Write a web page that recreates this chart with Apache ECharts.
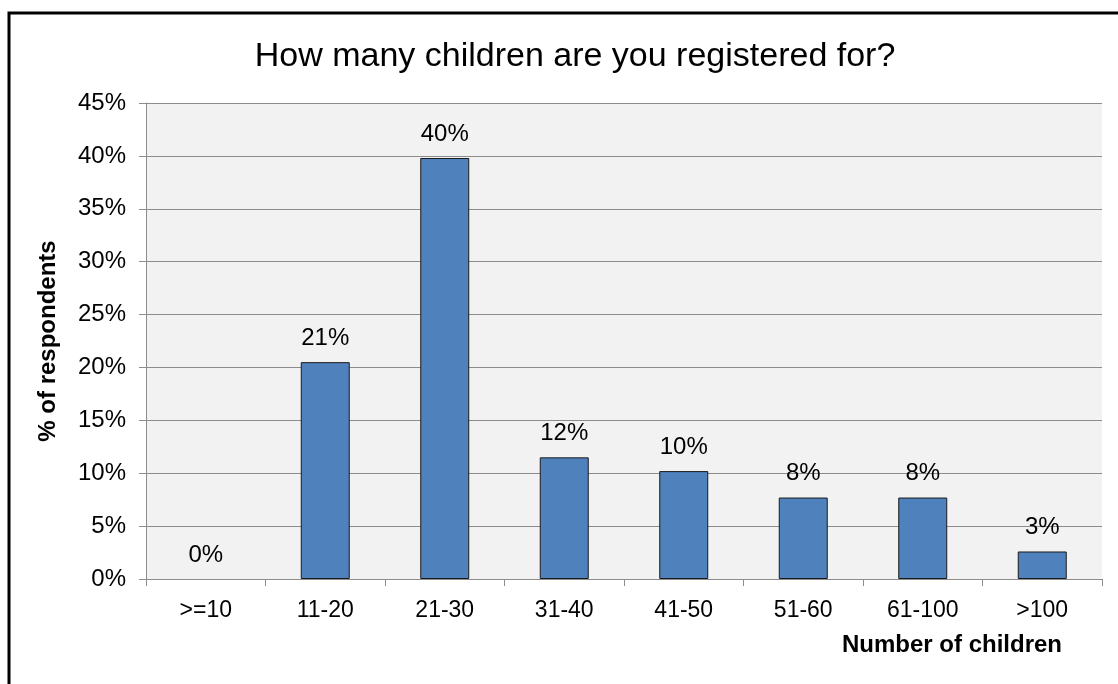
<!DOCTYPE html>
<html>
<head>
<meta charset="utf-8">
<script src="https://cdn.jsdelivr.net/npm/echarts@6/dist/echarts.min.js"></script>
<style>
  html, body { margin: 0; padding: 0; background: #fff; }
  #chart { width: 1118px; height: 684px; }
</style>
</head>
<body>
<div id="chart"></div>
<script>
var categories = ['>=10', '11-20', '21-30', '31-40', '41-50', '51-60', '61-100', '>100'];
var shares = [0, 20.5, 39.8, 11.5, 10.2, 7.7, 7.7, 2.6];
var yTicks = { min: 0, max: 45, interval: 5 };

var myChart = echarts.init(document.getElementById('chart'));

// zero bars get no outline, like the original
var barData = shares.map(function (v) {
    return v === 0 ? { value: v, itemStyle: { borderWidth: 0 } } : v;
});

var option = {
    animation: false,
    backgroundColor: '#fff',
    textStyle: { fontFamily: 'Liberation Sans, Arial, sans-serif' },
    title: {
        text: 'How many children are you registered for?',
        left: 570,
        textAlign: 'center',
        top: 35,
        textStyle: { fontSize: 34, fontWeight: 'normal', color: '#000' }
    },
    // frame around the chart, only top and left edges are in view
    graphic: [{
        type: 'rect',
        shape: { x: 9, y: 13, width: 1300, height: 900 },
        style: { fill: null, stroke: '#000', lineWidth: 3 },
        silent: true
    }],
    grid: {
        left: 146, right: 16, top: 103, bottom: 105,
        show: true, backgroundColor: '#f2f2f2', borderWidth: 0
    },
    xAxis: {
        type: 'category',
        data: categories,
        name: 'Number of children',
        nameLocation: 'end',
        nameGap: -40,
        nameTextStyle: {
            fontSize: 24, fontWeight: 'bold', color: '#000',
            align: 'right', verticalAlign: 'top', padding: [54, 0, 0, 0]
        },
        axisLine: { lineStyle: { color: '#8c8c8c' } },
        axisTick: { show: true, length: 7, inside: false, lineStyle: { color: '#8c8c8c' } },
        axisLabel: { fontSize: 23, color: '#000', margin: 20 }
    },
    yAxis: {
        type: 'value',
        min: yTicks.min, max: yTicks.max, interval: yTicks.interval,
        name: '% of respondents',
        nameLocation: 'middle',
        nameRotate: 90,
        nameGap: 86,
        nameTextStyle: { fontSize: 24, fontWeight: 'bold', color: '#000' },
        axisLine: { show: true, lineStyle: { color: '#8c8c8c' } },
        axisTick: { show: true, length: 7, lineStyle: { color: '#8c8c8c' } },
        axisLabel: { fontSize: 24, color: '#000', margin: 20, formatter: '{value}%' },
        splitLine: { lineStyle: { color: '#8c8c8c' } }
    },
    series: [{
        type: 'bar',
        data: barData,
        barCategoryGap: '59%',
        itemStyle: { color: '#4f81bd', borderColor: '#1a1a1a', borderWidth: 1 },
        label: {
            show: true,
            position: 'top',
            distance: 12,
            fontSize: 24,
            color: '#000',
            formatter: function (p) { return Math.round(p.value) + '%'; }
        }
    }]
};

myChart.setOption(option);
</script>
</body>
</html>
